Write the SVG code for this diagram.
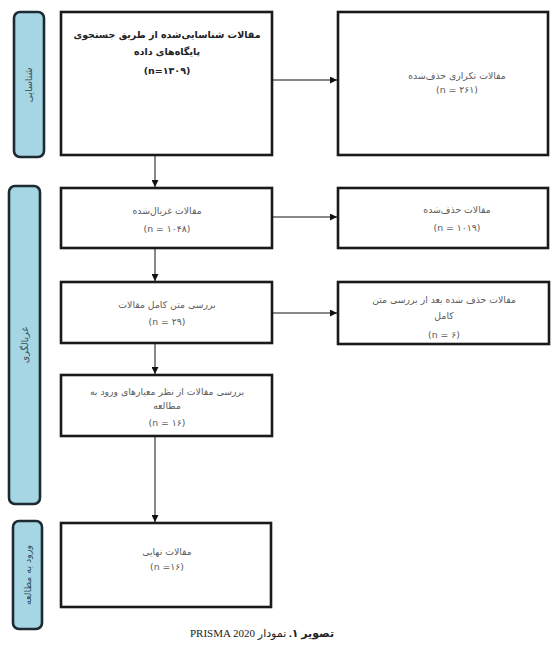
<svg xmlns="http://www.w3.org/2000/svg" width="555" height="647" viewBox="0 0 555 647">
<defs>
<marker id="ah" viewBox="0 0 10 10" refX="10" refY="5" markerWidth="7" markerHeight="7" markerUnits="userSpaceOnUse" orient="auto">
<path d="M0,0 L10,5 L0,10 z" fill="#111"/>
</marker>
<style>
.box{fill:#fff;stroke:#1a1a1a;stroke-width:2.6}
.bar{fill:#a6d6e4;stroke:#1c2a33;stroke-width:2.6}
.t{font-family:"DejaVu Sans",sans-serif;font-size:9.3px;fill:#5a5a5a;text-anchor:middle}
.tb{font-family:"DejaVu Sans",sans-serif;font-size:9.5px;font-weight:bold;fill:#222;text-anchor:middle}
.lbl{font-family:"DejaVu Sans",sans-serif;font-size:9.5px;fill:#34505b;text-anchor:middle}
.c{stroke:#111;stroke-width:1;fill:none;marker-end:url(#ah)}
.cap{font-family:"Liberation Serif","DejaVu Sans",serif;font-size:11px;fill:#222;text-anchor:middle}
</style>
</defs>
<rect width="555" height="647" fill="#fff"/>

<g id="phase-identification">
<rect class="bar" x="14" y="12" width="30" height="145" rx="6"/>
<text class="lbl" transform="translate(32,85) rotate(-90)">شناسایی</text>
</g>
<g id="phase-screening">
<rect class="bar" x="9" y="186" width="31" height="318" rx="6"/>
<text class="lbl" transform="translate(28,345) rotate(-90)">غربالگری</text>
</g>
<g id="phase-included">
<rect class="bar" x="13" y="521" width="29" height="108" rx="6"/>
<text class="lbl" transform="translate(31,575) rotate(-90)">ورود به مطالعه</text>
</g>

<g id="identified">
<rect class="box" x="61" y="12" width="211" height="143"/>
<text class="tb" x="167" y="38">مقالات شناسایی‌شده از طریق جستجوی</text>
<text class="tb" x="167" y="55">پایگاه‌های داده</text>
<text class="tb" x="167" y="74">(n=۱۳۰۹)</text>
</g>
<g id="duplicates">
<rect class="box" x="338" y="12" width="210" height="143"/>
<text class="t" x="457" y="79">مقالات تکراری حذف‌شده</text>
<text class="t" x="457" y="93">(n = ۲۶۱)</text>
</g>
<g id="screened">
<rect class="box" x="61" y="188" width="211" height="60"/>
<text class="t" x="167" y="214">مقالات غربال‌شده</text>
<text class="t" x="167" y="232">(n = ۱۰۴۸)</text>
</g>
<g id="excluded">
<rect class="box" x="338" y="188" width="210" height="60"/>
<text class="t" x="457" y="213">مقالات حذف‌شده</text>
<text class="t" x="457" y="231">(n = ۱۰۱۹)</text>
</g>
<g id="fulltext">
<rect class="box" x="61" y="282" width="211" height="61"/>
<text class="t" x="167" y="308">بررسی متن کامل مقالات</text>
<text class="t" x="167" y="325">(n = ۲۹)</text>
</g>
<g id="excluded-fulltext">
<rect class="box" x="338" y="282" width="211" height="62"/>
<text class="t" x="444" y="303">مقالات حذف شده بعد از بررسی متن</text>
<text class="t" x="444" y="319">کامل</text>
<text class="t" x="444" y="338">(n = ۶)</text>
</g>
<g id="eligibility">
<rect class="box" x="61" y="375" width="211" height="61"/>
<text class="t" x="167" y="395">بررسی مقالات از نظر معیارهای ورود به</text>
<text class="t" x="167" y="409">مطالعه</text>
<text class="t" x="167" y="426">(n = ۱۶)</text>
</g>
<g id="final">
<rect class="box" x="61" y="523" width="210" height="84"/>
<text class="t" x="167" y="555">مقالات نهایی</text>
<text class="t" x="167" y="570">(n =۱۶)</text>
</g>

<g id="connectors">
<path class="c" d="M272,80 H337"/>
<path class="c" d="M155,155 V187"/>
<path class="c" d="M272,217 H337"/>
<path class="c" d="M155,248 V281"/>
<path class="c" d="M272,313 H337"/>
<path class="c" d="M155,343 V374"/>
<path class="c" d="M155,436 V522"/>
</g>

<text class="cap" x="262" y="637" direction="rtl" unicode-bidi="embed"><tspan font-weight="bold">تصویر ۱.</tspan> نمودار PRISMA 2020</text>
</svg>
